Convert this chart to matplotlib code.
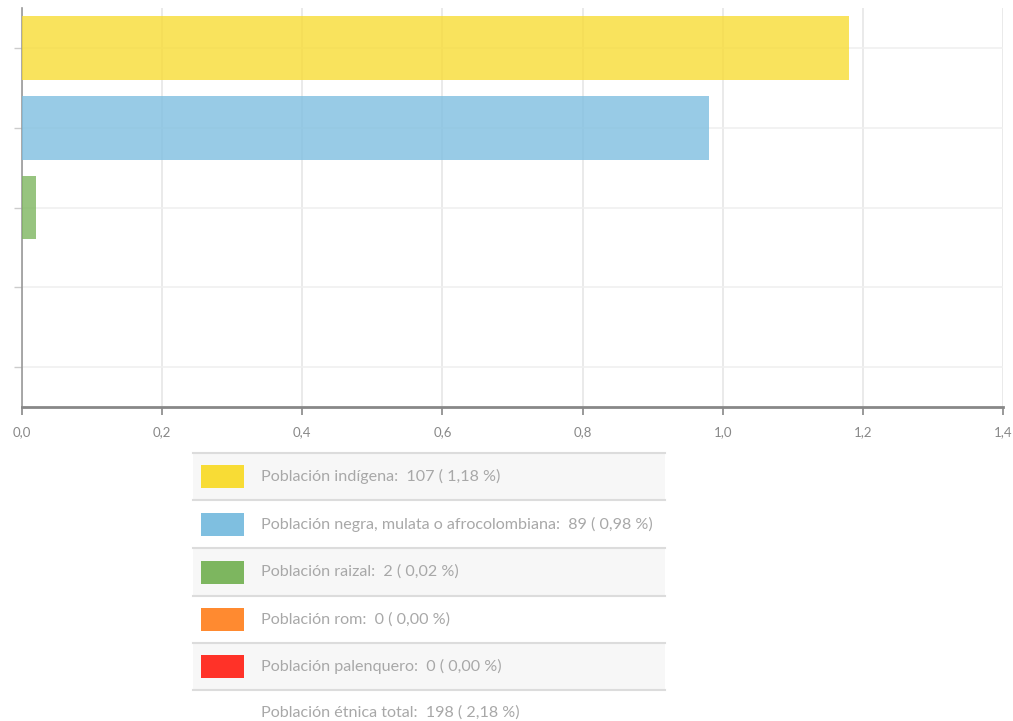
import matplotlib
matplotlib.use("Agg")
import matplotlib.pyplot as plt
from matplotlib.patches import Rectangle
from matplotlib.lines import Line2D
from matplotlib.ticker import FuncFormatter

categories = ["Población indígena", "Población negra, mulata o afrocolombiana",
              "Población raizal", "Población rom", "Población palenquero"]
counts = [107, 89, 2, 0, 0]
percents = [1.18, 0.98, 0.02, 0.00, 0.00]
colors = ["#F8DC35", "#7FBFE0", "#7DB65F", "#FF8A30", "#FF3228"]
total_label = "Población étnica total"
total_count = 198
total_percent = 2.18
x_ticks = [0.0, 0.2, 0.4, 0.6, 0.8, 1.0, 1.2, 1.4]

W, H = 1013, 721
plt.rcParams['font.family'] = ['Lato', 'DejaVu Sans']
fig = plt.figure(figsize=(W / 100, H / 100), dpi=100)
fig.patch.set_facecolor("white")

def fx(x):
    return x / W

def fy(y):
    return 1 - y / H

ax = fig.add_axes([fx(22), fy(407), (1003 - 22) / W, (407 - 8) / H])
ypos = list(range(len(categories)))
ax.barh(ypos, percents, height=0.8, color=colors, alpha=0.8, zorder=3)
ax.set_xlim(0, 1.4)
ax.set_ylim(len(categories) - 0.5, -0.5)
ax.set_xticks(x_ticks)
ax.xaxis.set_major_formatter(FuncFormatter(lambda v, p: f"{v:.1f}".replace(".", ",")))
ax.set_yticks(ypos)
ax.set_yticklabels([])
ax.grid(True, axis="x", color="#e6e6e6", linewidth=1.2, zorder=0)
ax.grid(True, axis="y", color="#f0f0f0", linewidth=1.2, zorder=0)
for s in ["top", "right"]:
    ax.spines[s].set_visible(False)
ax.spines["bottom"].set_color("#888888")
ax.spines["bottom"].set_linewidth(2)
ax.spines["left"].set_color("#999999")
ax.spines["left"].set_linewidth(1.2)
ax.tick_params(axis="x", colors="#888888", labelcolor="#888888", labelsize=9.5,
               length=6, width=1.2, pad=7.5)
ax.tick_params(axis="y", colors="#cccccc", length=6, width=1.0)

# Legend table
rows_top = [453, 500, 548, 596, 643]
rows_bot = [500, 548, 596, 643, 690]
tx0, tx1 = 193, 665
for i, (name, c, p, col) in enumerate(zip(categories, counts, percents, colors)):
    t, b = rows_top[i], rows_bot[i]
    if i % 2 == 0:
        fig.add_artist(Rectangle((fx(tx0), fy(b)), fx(tx1 - tx0), (b - t) / H,
                                 transform=fig.transFigure, facecolor="#f7f7f7",
                                 edgecolor="none", zorder=1))
    cy = (t + b) / 2
    fig.add_artist(Rectangle((fx(201), fy(cy + 11.5)), fx(43), 23 / H,
                             transform=fig.transFigure, facecolor=col,
                             edgecolor="none", zorder=2))
    label = f"{name}:  {c} ( {p:.2f} %)".replace(".", ",")
    fig.text(fx(261), fy(cy), label, ha="left", va="center", fontsize=11.6,
             color="#a8a8a8", zorder=3)
for y in rows_top + [rows_bot[-1]]:
    fig.add_artist(Line2D([fx(tx0), fx(tx1)], [fy(y), fy(y)], transform=fig.transFigure,
                          color="#dcdcdc", linewidth=1.5, zorder=4))
total_text = f"{total_label}:  {total_count} ( {total_percent:.2f} %)".replace(".", ",")
fig.text(fx(261), fy(713), total_text, ha="left", va="center", fontsize=11.6,
         color="#a8a8a8")

fig.savefig("out.png", dpi=100, facecolor="white")
